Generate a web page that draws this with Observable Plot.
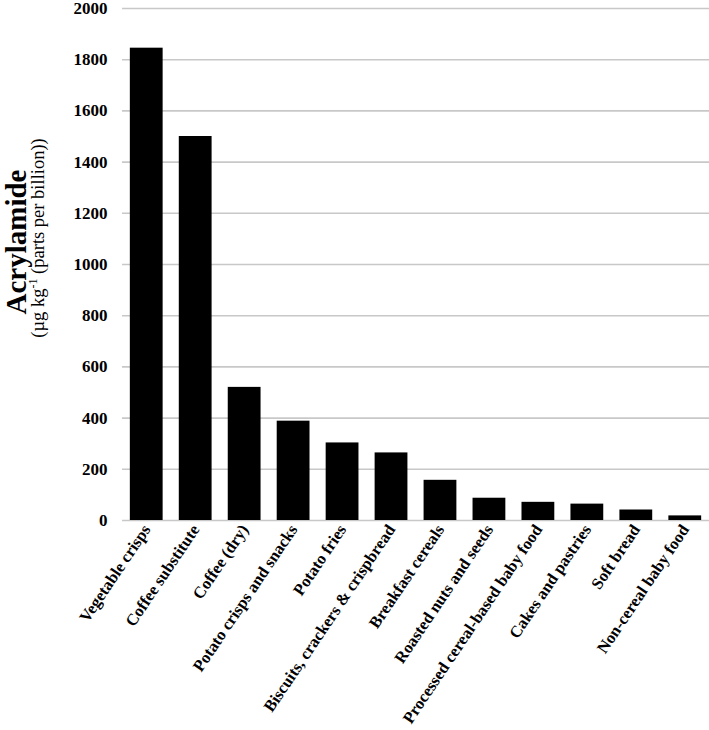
<!DOCTYPE html>
<html>
<head>
<meta charset="utf-8">
<script src="https://cdn.jsdelivr.net/npm/d3@7"></script>
<script src="https://cdn.jsdelivr.net/npm/@observablehq/plot@0.6"></script>
<style>
  html, body { margin: 0; padding: 0; background: #fff; }
  #chart { width: 709px; height: 730px; }
</style>
</head>
<body>
<div id="chart"></div>
<script>
const categories = [
  "Vegetable crisps",
  "Coffee substitute",
  "Coffee (dry)",
  "Potato crisps and snacks",
  "Potato fries",
  "Biscuits, crackers & crispbread",
  "Breakfast cereals",
  "Roasted nuts and seeds",
  "Processed cereal-based baby food",
  "Cakes and pastries",
  "Soft bread",
  "Non-cereal baby food"
];
const values = [1845, 1500, 520, 388, 303, 264, 157, 87, 71, 64, 41, 18];
const yTicks = [0, 200, 400, 600, 800, 1000, 1200, 1400, 1600, 1800, 2000];
const yTitle = "Acrylamide";
const ySubtitleParts = ["(µg kg", "-1", " (parts per billion))"];

const data = categories.map((c, i) => ({category: c, value: values[i]}));
const font = "'Liberation Serif', 'Times New Roman', serif";

const plot = Plot.plot({
  width: 709,
  height: 730,
  marginLeft: 122,
  marginRight: 0,
  marginTop: 8,
  marginBottom: 210,
  style: {fontFamily: font, fontSize: "17px", fontWeight: "bold", color: "#000", background: "#fff"},
  x: {domain: categories, paddingInner: 0.33, paddingOuter: 0.16, round: false, label: null},
  y: {domain: [0, 2000], label: null},
  marks: [
    Plot.ruleY(yTicks, {stroke: "#c8c8c8", strokeWidth: 1.6}),
    Plot.barY(data, {x: "category", y: "value", fill: "#000"}),
    Plot.axisY({ticks: yTicks, tickFormat: d => String(d), tickSize: 0, tickPadding: 15, label: null, fontSize: 17, fontWeight: "bold", fill: "#000"}),
    Plot.axisX({tickSize: 0, tickPadding: 6, tickRotate: -56, label: null, fontSize: 16.5, fontWeight: "bold", fill: "#000"})
  ]
});

document.getElementById("chart").appendChild(plot);

const svg = d3.select(plot);
svg.append("text")
  .attr("transform", "translate(26,242) rotate(-90)")
  .attr("text-anchor", "middle")
  .attr("font-family", font)
  .attr("font-size", 29)
  .attr("font-weight", "bold")
  .attr("fill", "#000")
  .text(yTitle);

const sub = svg.append("text")
  .attr("transform", "translate(44,238) rotate(-90)")
  .attr("text-anchor", "middle")
  .attr("font-family", font)
  .attr("font-size", 18.5)
  .attr("font-weight", "normal")
  .attr("fill", "#000");
sub.append("tspan").text(ySubtitleParts[0]);
sub.append("tspan").attr("dy", -7).attr("font-size", 12).text(ySubtitleParts[1]);
sub.append("tspan").attr("dy", 7).text(ySubtitleParts[2]);
</script>
</body>
</html>
